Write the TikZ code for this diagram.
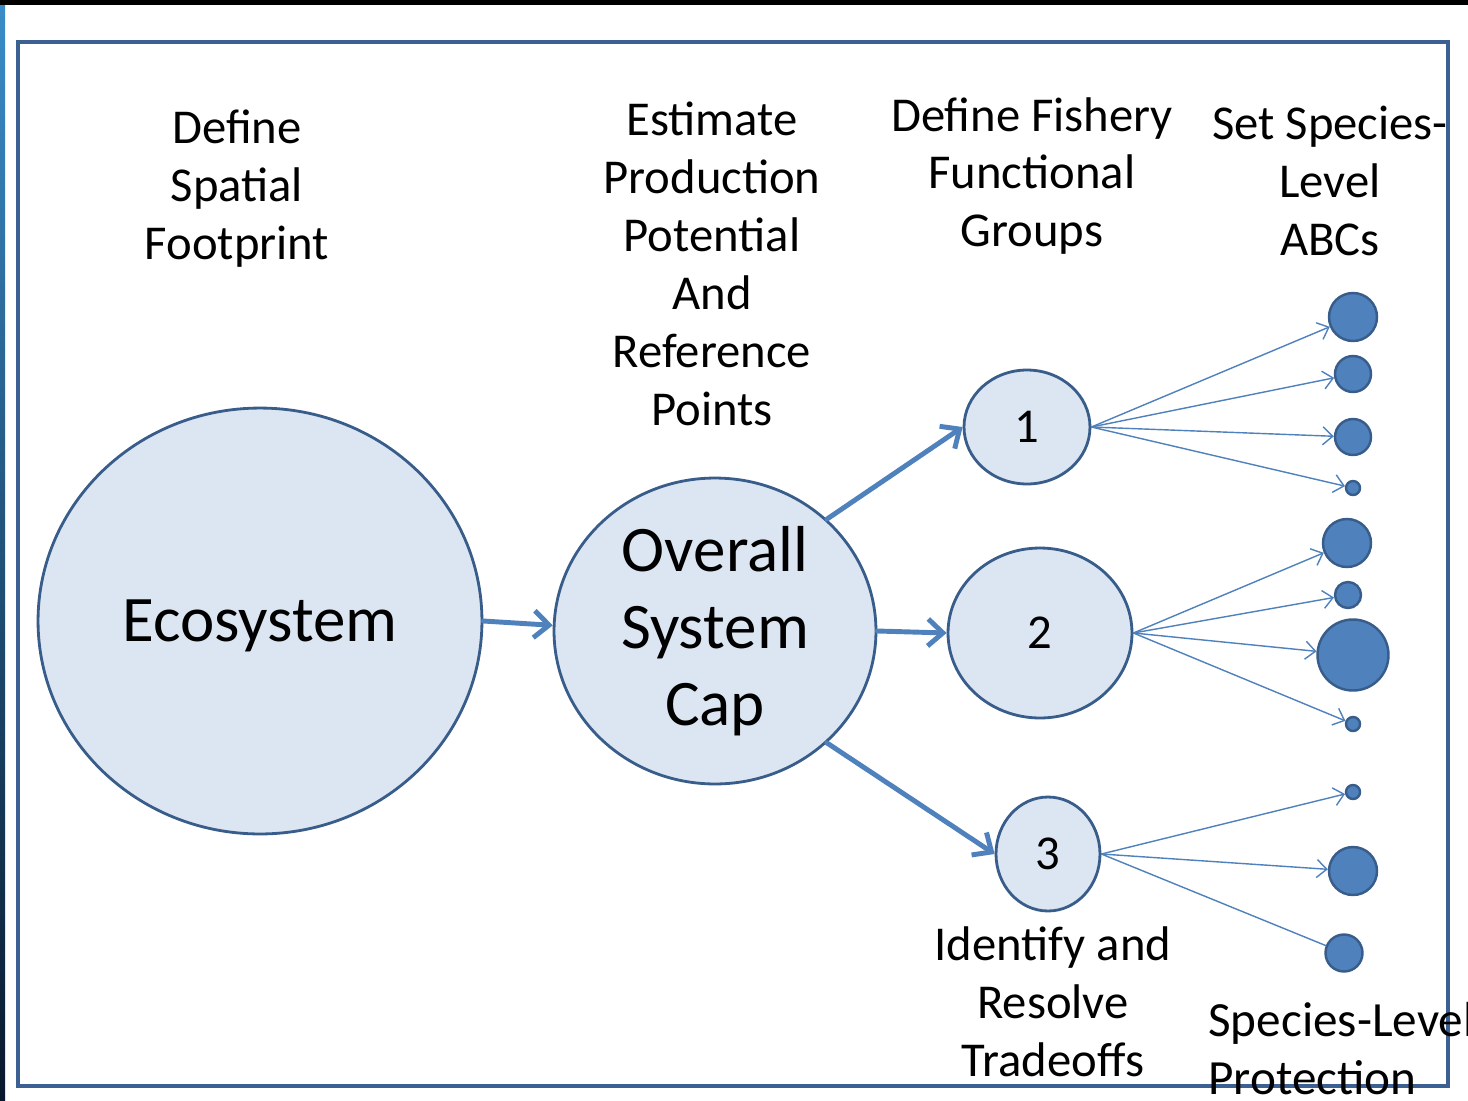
\documentclass[tikz,border=0pt]{standalone}
\usepackage{fontspec}
\setmainfont{Carlito}
\usepackage{tikz}
\usetikzlibrary{arrows.meta,shapes.geometric}
\definecolor{ColFrame}{RGB}{60,96,145}
\definecolor{ColEdge}{RGB}{56,93,138}
\definecolor{ColFill}{RGB}{220,230,242}
\definecolor{ColDot}{RGB}{79,129,189}
\definecolor{ColStripTop}{RGB}{58,140,200}
\definecolor{ColStripBot}{RGB}{8,24,44}

\begin{document}
\begin{tikzpicture}[
  x=0.02cm, y=-0.02cm,
  >={Straight Barb[length=3mm,width=5.4mm]},
  line cap=round,
  line join=round,
  every node/.style={font=\fontsize{27.7}{33}\selectfont, align=center},
  stage/.style={ellipse, draw=ColEdge, line width=1.6pt, fill=ColFill, inner sep=0pt},
  big/.style={font=\fontsize{37}{44}\selectfont},
  species/.style={circle, draw=ColEdge, line width=1.4pt, fill=ColDot, inner sep=0pt, minimum size=#1},
  flow/.style={->, draw=ColDot, line width=2.8pt},
  split/.style={-{Straight Barb[length=2mm,width=3.6mm]}, draw=ColDot, line width=0.8pt}
]
  \useasboundingbox (0,0) rectangle (1468,1100);
  \fill[white] (0,0) rectangle (1468,1100);
  % slide edges
  \fill[black] (0,0) rectangle (1468,5);
  \shade[top color=ColStripTop, bottom color=ColStripBot] (0,5) rectangle (5,1100);
  \draw[ColFrame, line width=2.3pt, line cap=butt, line join=miter] (18,42) rectangle (1448,1086);

  % column headings
  \node (footprint) at (237,189) {Define\\Spatial\\Footprint};
  \node (potential) at (712,264) {Estimate\\Production\\Potential\\And\\Reference\\Points};
  \node (fishery)   at (1032,176) {Define Fishery\\Functional\\Groups};
  \node (abcs)      at (1330,181) {Set Species-\\Level\\ABCs};
  \node (tradeoffs) at (1053,1002) {Identify and\\Resolve\\Tradeoffs};
  \node[anchor=west, align=left, inner sep=0pt, font=\fontsize{28}{33}\selectfont]
    (protection) at (1208,1049) {Species-Level\\Protection};

  % ecosystem -> overall cap -> functional groups
  \node[stage, big, text depth=0pt, minimum width=8.88cm, minimum height=8.52cm] (eco) at (260,621) {Ecosystem};
  \node[stage, big, minimum width=6.44cm, minimum height=6.12cm] (cap) at (715,631) {Overall\\System\\Cap};
  \node[stage, minimum width=2.52cm, minimum height=2.28cm] (g1) at (1027,427) {1};
  \node[stage, minimum width=3.68cm, minimum height=3.40cm] (g2) at (1040,633) {2};
  \node[stage, minimum width=2.08cm, minimum height=2.28cm] (g3) at (1048,854) {3};

  \draw[flow] (eco.east) -- (cap.178);
  \draw[flow] (cap.45) -- (g1.west);
  \draw[flow] (cap.east) -- (g2.west);
  \draw[flow] (cap.-45) -- (g3.west);

  % species within each group
  \node[species=0.96cm] (d11) at (1353,317) {};
  \node[species=0.72cm] (d12) at (1353,374) {};
  \node[species=0.72cm] (d13) at (1353,437) {};
  \node[species=0.28cm] (d14) at (1353,488) {};
  \node[species=0.96cm] (d21) at (1347,543) {};
  \node[species=0.52cm] (d22) at (1348,595) {};
  \node[species=1.42cm] (d23) at (1353,655) {};
  \node[species=0.28cm] (d24) at (1353,724) {};
  \node[species=0.28cm] (d31) at (1353,792) {};
  \node[species=0.96cm] (d32) at (1353,871) {};
  \node[species=0.74cm] (d33) at (1344,953) {};

  \foreach \d in {d11,d12,d13,d14}{\draw[split] (g1.east) -- (\d);}
  \foreach \d in {d21,d22,d23,d24}{\draw[split] (g2.east) -- (\d);}
  \foreach \d in {d31,d32}{\draw[split] (g3.east) -- (\d);}
  \draw[ColDot, line width=0.8pt] (g3.east) -- (d33);
\end{tikzpicture}
\end{document}
